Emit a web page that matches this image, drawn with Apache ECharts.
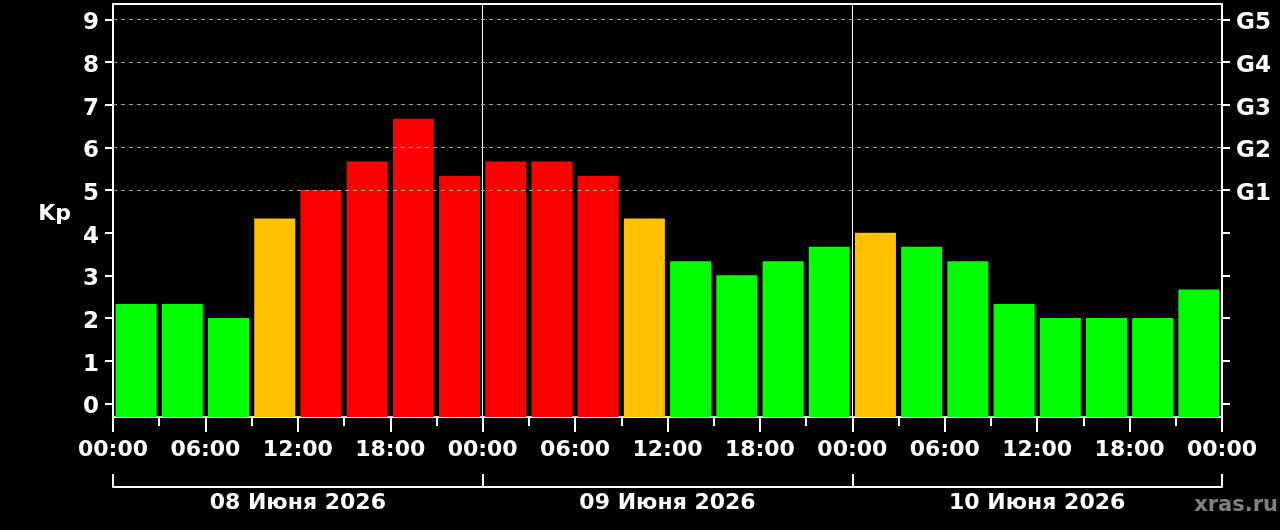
<!DOCTYPE html>
<html>
<head>
<meta charset="utf-8">
<script src="https://cdn.jsdelivr.net/npm/echarts@6/dist/echarts.min.js"></script>
<style>
  html, body { margin: 0; padding: 0; background: #000; }
  #container { width: 1280px; height: 530px; }
</style>
</head>
<body>
<div id="container"></div>
<script>
var dom = document.getElementById('container');
var myChart = echarts.init(dom, null, { renderer: 'canvas' });

// 3-часовые интервалы, три дня подряд
var slotNames = ['00-03', '03-06', '06-09', '09-12', '12-15', '15-18', '18-21', '21-24',
    '00-03', '03-06', '06-09', '09-12', '12-15', '15-18', '18-21', '21-24',
    '00-03', '03-06', '06-09', '09-12', '12-15', '15-18', '18-21', '21-24'];
var kpValues = [2.33, 2.33, 2.0, 4.33, 5.0, 5.67, 6.67, 5.33,
    5.67, 5.67, 5.33, 4.33, 3.33, 3.0, 3.33, 3.67,
    4.0, 3.67, 3.33, 2.33, 2.0, 2.0, 2.0, 2.67];
var dayLabels = ['08 Июня 2026', '09 Июня 2026', '10 Июня 2026'];
var dayMiddles = [12, 36, 60];
var dayBounds = [0, 24, 48, 72];
var kpTicks = [0, 1, 2, 3, 4, 5, 6, 7, 8, 9];
var gLevels = [5, 6, 7, 8, 9];
var gridLevels = [5, 6, 7, 8, 9];

var FONT = 'DejaVu Sans';
var GREEN = '#00ff00', ORANGE = '#ffc000', RED = '#ff0000';
var BAR_W = 41;

function kpColor(v) {
    if (v >= 5) return RED;
    if (v >= 4) return ORANGE;
    return GREEN;
}

function hh(v) {
    var h = Math.round(v) % 24;
    return (h < 10 ? '0' : '') + h + ':00';
}

var white = { color: '#fff', width: 2 };
var yMin = -0.32, yMax = 9.36;

// столбик рисуется от нижней границы оси (yMin) до значения Kp
function renderKp(params, api) {
    var i = api.value(0), v = api.value(1);
    var top = api.coord([i, v]);
    var bot = api.coord([i, yMin]);
    return {
        type: 'rect',
        shape: { x: top[0] - BAR_W / 2, y: top[1], width: BAR_W, height: bot[1] - top[1] },
        style: { fill: kpColor(v) }
    };
}

var option = {
    backgroundColor: '#000',
    animation: false,
    title: {
        text: 'xras.ru', right: -3, top: 490,
        textStyle: { color: '#808080', fontFamily: FONT, fontWeight: 'bold', fontSize: 21 }
    },
    grid: { left: 113, right: 58, top: 4, bottom: 113 },
    xAxis: [
        { type: 'category', data: slotNames, boundaryGap: true, show: false, axisLine: { onZero: false } },
        {
            type: 'value', min: 0, max: 72, interval: 6, position: 'bottom',
            axisLine: { show: true, onZero: false, lineStyle: white },
            axisTick: { show: true, length: 15, lineStyle: white },
            minorTick: { show: true, splitNumber: 2, length: 9, lineStyle: white },
            axisLabel: {
                color: '#fff', fontFamily: FONT, fontWeight: 'bold', fontSize: 22, margin: 22,
                formatter: hh
            },
            splitLine: { show: false }
        },
        {
            type: 'value', min: 0, max: 72, interval: 24, position: 'top',
            axisLine: { show: true, onZero: false, lineStyle: white },
            axisTick: { show: false }, axisLabel: { show: false },
            splitLine: { show: true, lineStyle: { color: '#fff', width: 1 } }
        },
        {
            type: 'value', min: 0, max: 72, interval: 24, position: 'bottom', offset: 70,
            axisLine: { show: true, onZero: false, lineStyle: white },
            axisTick: { show: true, inside: true, length: 13, lineStyle: white, customValues: dayBounds },
            axisLabel: {
                customValues: dayMiddles, color: '#fff', fontFamily: FONT, fontWeight: 'bold',
                fontSize: 22, margin: 5,
                formatter: function (v) { return dayLabels[dayMiddles.indexOf(v)]; }
            },
            splitLine: { show: false }
        }
    ],
    yAxis: [
        {
            type: 'value', min: yMin, max: yMax, position: 'left',
            name: 'Kp', nameLocation: 'middle', nameRotate: 0, nameGap: 42,
            nameTextStyle: { color: '#fff', fontFamily: FONT, fontWeight: 'bold', fontSize: 22, align: 'right', verticalAlign: 'top', lineHeight: 8 },
            axisLine: { show: true, onZero: false, lineStyle: white },
            axisTick: { show: true, length: 8, lineStyle: white, customValues: kpTicks },
            axisLabel: {
                customValues: kpTicks, color: '#fff', fontFamily: FONT, fontWeight: 'bold', fontSize: 23, margin: 14,
                verticalAlign: 'top', lineHeight: 8
            },
            splitLine: { show: false }
        },
        {
            type: 'value', min: yMin, max: yMax, position: 'right',
            axisLine: { show: true, onZero: false, lineStyle: white },
            axisTick: { show: true, length: 8, lineStyle: white, customValues: kpTicks },
            axisLabel: {
                customValues: gLevels, color: '#fff', fontFamily: FONT, fontWeight: 'bold', fontSize: 23, margin: 14,
                verticalAlign: 'top', lineHeight: 8,
                formatter: function (v) { return 'G' + (v - 4); }
            },
            splitLine: { show: false }
        }
    ],
    series: [
        {
            // пунктирная сетка G1..G5 под столбиками
            type: 'line', xAxisIndex: 0, yAxisIndex: 0, data: [], z: 1, silent: true,
            markLine: {
                silent: true, symbol: 'none', label: { show: false },
                lineStyle: { color: '#a0a0a0', type: [4, 4], width: 1 },
                data: gridLevels.map(function (g) { return { yAxis: g }; })
            }
        },
        {
            type: 'custom', xAxisIndex: 0, yAxisIndex: 0, z: 2,
            renderItem: renderKp,
            encode: { x: 0, y: 1 },
            data: kpValues.map(function (v, i) { return [i, v]; })
        }
    ]
};

myChart.setOption(option);
</script>
</body>
</html>
